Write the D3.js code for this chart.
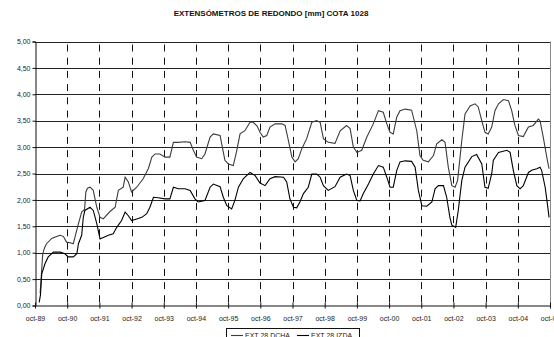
<!DOCTYPE html>
<html><head><meta charset="utf-8">
<script src="https://cdn.jsdelivr.net/npm/d3@7"></script>
<style>
html,body{margin:0;padding:0;background:#fff;overflow:hidden}
text{font-family:"Liberation Sans",Arial,sans-serif}
</style></head>
<body><svg id="c" width="554" height="337"></svg>
<script>
const title = "EXTENSÓMETROS DE REDONDO [mm] COTA 1028";
const seriesNames = ["EXT 28 DCHA", "EXT 28 IZDA"];
const xTickYears = [89,90,91,92,93,94,95,96,97,98,99,"00","01","02","03","04","05"];
const yTicks = [0,0.5,1,1.5,2,2.5,3,3.5,4,4.5,5];

// decimal year, value (mm)
const dchaT = [1989.91,1989.95,1989.99,1990.05,1990.11,1990.27,1990.40,1990.53,1990.63,1990.73,1990.84,1990.94,1990.99,1991.10,1991.20,1991.29,1991.33,1991.38,1991.46,1991.56,1991.67,1991.77,1991.87,1992.08,1992.24,1992.34,1992.49,1992.55,1992.65,1992.75,1992.91,1993.11,1993.27,1993.38,1993.48,1993.63,1993.79,1993.94,1994.05,1994.20,1994.41,1994.57,1994.67,1994.77,1994.93,1995.03,1995.19,1995.29,1995.50,1995.55,1995.65,1995.76,1995.91,1996.02,1996.12,1996.27,1996.43,1996.53,1996.65,1996.74,1996.84,1996.95,1997.05,1997.21,1997.42,1997.52,1997.62,1997.73,1997.83,1997.93,1998.04,1998.19,1998.35,1998.50,1998.61,1998.71,1998.86,1999.07,1999.23,1999.43,1999.54,1999.64,1999.75,1999.90,2000.06,2000.26,2000.42,2000.57,2000.68,2000.78,2000.88,2000.99,2001.09,2001.25,2001.45,2001.61,2001.71,2001.81,2001.97,2002.13,2002.23,2002.39,2002.49,2002.59,2002.70,2002.80,2002.88,2003.01,2003.11,2003.27,2003.42,2003.52,2003.63,2003.73,2003.83,2003.94,2004.04,2004.15,2004.30,2004.46,2004.56,2004.66,2004.77,2004.92,2005.08,2005.23,2005.39,2005.44,2005.54,2005.65,2005.72];
const dchaV = [0.23,0.60,0.98,1.10,1.17,1.27,1.30,1.33,1.31,1.20,1.19,1.17,1.29,1.55,1.77,1.82,2.15,2.22,2.24,2.18,1.86,1.67,1.64,1.78,1.86,2.18,2.24,2.43,2.34,2.15,2.24,2.40,2.59,2.81,2.87,2.87,2.81,2.81,3.09,3.09,3.10,3.09,2.94,2.81,2.78,2.87,3.19,3.25,3.22,3.06,2.75,2.68,2.65,2.94,3.25,3.31,3.47,3.47,3.40,3.28,3.19,3.22,3.38,3.44,3.44,3.41,3.13,2.81,2.72,2.78,2.97,3.16,3.47,3.50,3.47,3.16,3.09,3.07,3.31,3.41,3.35,3.00,2.90,2.94,3.19,3.44,3.69,3.66,3.44,3.28,3.25,3.57,3.69,3.72,3.70,3.31,2.84,2.75,2.72,2.84,3.06,3.14,3.09,2.62,2.27,2.24,2.37,3.13,3.63,3.78,3.82,3.76,3.50,3.28,3.25,3.38,3.69,3.82,3.90,3.88,3.69,3.41,3.22,3.20,3.38,3.41,3.53,3.50,3.19,2.81,2.59];

const izdaT = [1989.88,1989.92,1989.96,1990.06,1990.16,1990.32,1990.53,1990.68,1990.78,1990.94,1991.05,1991.10,1991.20,1991.25,1991.30,1991.46,1991.56,1991.67,1991.77,1991.87,1992.03,1992.18,1992.29,1992.44,1992.55,1992.65,1992.75,1992.91,1993.07,1993.22,1993.32,1993.43,1993.58,1993.79,1993.94,1994.05,1994.20,1994.41,1994.57,1994.72,1994.82,1995.03,1995.19,1995.29,1995.50,1995.60,1995.71,1995.86,1995.96,1996.07,1996.22,1996.43,1996.59,1996.74,1996.90,1997.05,1997.21,1997.47,1997.57,1997.67,1997.78,1997.88,1997.98,1998.09,1998.24,1998.35,1998.50,1998.61,1998.71,1998.86,1999.07,1999.23,1999.43,1999.54,1999.64,1999.75,1999.85,1999.95,2000.11,2000.26,2000.42,2000.57,2000.68,2000.78,2000.88,2000.99,2001.09,2001.25,2001.45,2001.56,2001.66,2001.77,2001.92,2002.08,2002.18,2002.28,2002.44,2002.54,2002.64,2002.70,2002.82,2002.90,2003.01,2003.11,2003.32,2003.47,2003.63,2003.73,2003.83,2003.94,2003.99,2004.15,2004.41,2004.51,2004.61,2004.72,2004.82,2004.92,2005.08,2005.18,2005.34,2005.44,2005.49,2005.60,2005.67,2005.72];
const izdaV = [0.06,0.20,0.60,0.79,0.92,1.01,1.01,0.98,0.92,0.92,0.98,1.17,1.33,1.67,1.80,1.86,1.80,1.55,1.26,1.29,1.33,1.36,1.48,1.61,1.77,1.70,1.61,1.64,1.67,1.74,1.86,2.05,2.04,2.02,2.02,2.24,2.21,2.21,2.18,2.02,1.96,1.99,2.24,2.30,2.25,2.05,1.89,1.83,1.99,2.24,2.40,2.52,2.46,2.32,2.27,2.40,2.44,2.43,2.34,2.02,1.86,1.85,1.96,2.12,2.24,2.49,2.49,2.43,2.27,2.18,2.25,2.43,2.49,2.46,2.18,1.99,1.98,2.12,2.30,2.49,2.65,2.62,2.43,2.24,2.24,2.56,2.72,2.74,2.73,2.62,2.18,1.89,1.88,1.96,2.21,2.27,2.27,2.05,1.67,1.52,1.48,1.80,2.37,2.62,2.82,2.86,2.68,2.24,2.22,2.50,2.75,2.90,2.94,2.90,2.56,2.27,2.21,2.27,2.52,2.56,2.59,2.62,2.56,2.24,1.92,1.67];

const svg = d3.select("#c");
const x = d3.scaleLinear().domain([1989.75, 2005.75]).range([35, 550]);
const y = d3.scaleLinear().domain([0, 5]).range([305.5, 41.5]);
const xTickVals = xTickYears.map((d,i)=>1989.75+i);
const fmt = v => d3.format(".2f")(v).replace(".", ",");

svg.append("text").attr("x", 271).attr("y", 16).attr("text-anchor","middle")
  .attr("font-size", 8).attr("font-weight","bold").attr("fill","#111").text(title);

// horizontal solid gridlines
svg.append("g").selectAll("line").data(yTicks.slice(1)).join("line")
  .attr("x1", 35).attr("x2", 550).attr("y1", d=>Math.round(y(d))+0.5).attr("y2", d=>Math.round(y(d))+0.5)
  .attr("stroke","#222").attr("stroke-width",1);

// vertical dashed gridlines
svg.append("g").selectAll("line").data(xTickVals.slice(1, -1)).join("line")
  .attr("x1", d=>Math.round(x(d))+0.5).attr("x2", d=>Math.round(x(d))+0.5)
  .attr("y1", y(5)).attr("y2", y(0))
  .attr("stroke","#111").attr("stroke-width",1).attr("stroke-dasharray","7,6.2")
  .attr("stroke-dashoffset", -3);

// right border
svg.append("line").attr("x1",550.5).attr("x2",550.5).attr("y1",y(5)).attr("y2",y(0))
  .attr("stroke","#888");

// axes
const yAxis = d3.axisLeft(y).tickValues(yTicks).tickFormat(fmt).tickSize(3).tickPadding(2);
const gy = svg.append("g").attr("transform","translate(35.5,0)").call(yAxis);
gy.select(".domain").attr("stroke","#111");
gy.selectAll(".tick line").attr("stroke","#111");
gy.selectAll("text").attr("font-size",7).attr("fill","#222").attr("font-family","'Liberation Sans',Arial,sans-serif");

const xAxis = d3.axisBottom(x).tickValues(xTickVals).tickFormat((d,i)=>"oct-"+xTickYears[i]).tickSizeInner(3).tickSizeOuter(0).tickPadding(8);
const gx = svg.append("g").attr("transform",`translate(0,${y(0)})`).call(xAxis);
gx.select(".domain").attr("stroke","#111");
gx.selectAll(".tick line").attr("stroke","#111").attr("y1",-3);
gx.selectAll("text").attr("font-size",7).attr("fill","#222").attr("font-family","'Liberation Sans',Arial,sans-serif");

// series
const line = d3.line().x(d=>x(d[0])).y(d=>y(d[1]));
const dcha = dchaT.map((t,i)=>[t, dchaV[i]]);
const izda = izdaT.map((t,i)=>[t, izdaV[i]]);
svg.append("path").datum(dcha).attr("d", line).attr("fill","none").attr("stroke","#3c3c3c").attr("stroke-width",1.1);
svg.append("path").datum(izda).attr("d", line).attr("fill","none").attr("stroke","#000").attr("stroke-width",1.1);

// legend
const lg = svg.append("g");
lg.append("rect").attr("x",226.5).attr("y",328.5).attr("width",133).attr("height",14)
  .attr("fill","#fff").attr("stroke","#111");
const colors = ["#3c3c3c","#000"];
const lx = [231, 297];
seriesNames.forEach((n,i)=>{
  lg.append("line").attr("x1",lx[i]).attr("x2",lx[i]+12).attr("y1",335.5).attr("y2",335.5)
    .attr("stroke",colors[i]).attr("stroke-width",1.1);
  lg.append("text").attr("x",lx[i]+14).attr("y",338).attr("font-size",7).attr("fill","#222").text(n);
});
</script></body></html>
